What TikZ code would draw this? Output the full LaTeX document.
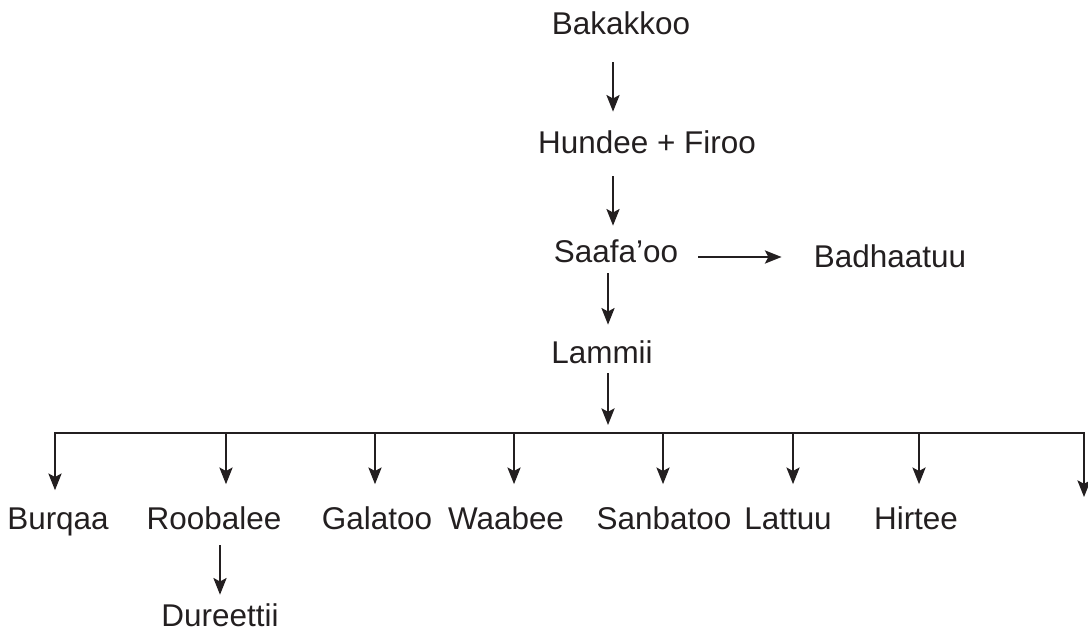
\documentclass[tikz,border=0pt]{standalone}
\usepackage{fontspec}
\setmainfont{Liberation Sans}
\usepackage{tikz}
\usetikzlibrary{arrows.meta}
\definecolor{ink}{HTML}{231F20}
\tikzstyle{word} = [font=\fontsize{17.9pt}{21pt}\selectfont, text=ink, inner sep=0pt, text height=0.45cm, text depth=0.12cm, anchor=base]
\tikzstyle{arrow} = [line width=1.1pt, draw=ink, -{Stealth[length=9.5pt, width=7.5pt, inset=2pt]}]
\tikzstyle{bus} = [line width=1.1pt, draw=ink, line cap=rect]

\begin{document}
\begin{tikzpicture}[x=0.02cm, y=-0.02cm]
\useasboundingbox (0,0) rectangle (1088,630);
\node (bak) [word] at (621,34) {Bakakkoo};
\node (hun) [word] at (647,153) {Hundee + Firoo};
\node (saa) [word] at (616,262) {Saafa’oo};
\node (bad) [word] at (890,267) {Badhaatuu};
\node (lam) [word] at (602,363) {Lammii};
\node (bur) [word] at (58,529) {Burqaa};
\node (roo) [word] at (214,529) {Roobalee};
\node (gal) [word] at (377,529) {Galatoo};
\node (waa) [word] at (506,529) {Waabee};
\node (san) [word] at (664,529) {Sanbatoo};
\node (lat) [word] at (788,529) {Lattuu};
\node (hir) [word] at (916,529) {Hirtee};
\node (dur) [word] at (220,626) {Dureettii};
\coordinate (top) at (613,0);
\coordinate (mid) at (608,433);
\coordinate (b1) at (55,433);
\coordinate (b2) at (226,433);
\coordinate (b3) at (375,433);
\coordinate (b4) at (514,433);
\coordinate (b5) at (663,433);
\coordinate (b6) at (793,433);
\coordinate (b7) at (919,433);
\coordinate (b8) at (1084,433);
\coordinate (end) at (1084,497);
\draw [arrow, shorten <=0.44cm, shorten >=0.37cm] (bak.south -| top) -- (hun.north -| top);
\draw [arrow, shorten <=0.34cm, shorten >=0.27cm] (hun.south -| top) -- (saa.north -| top);
\draw [arrow, shorten <=0.4cm, shorten >=0.64cm] ([yshift=-0.065cm]saa.east) -- ([yshift=-0.065cm]saa.east -| bad.west);
\draw [arrow, shorten <=0.1cm, shorten >=0.31cm] (saa.south -| mid) -- (lam.north -| mid);
\draw [arrow, shorten <=0.08cm, shorten >=0.16cm] (lam.south -| mid) -- (mid);
\draw [bus] (b1) -- (b8);
\draw [arrow, shorten >=0.32cm] (b1) -- (bur.north -| b1);
\foreach \b/\n in {b2/roo, b3/gal, b4/waa, b5/san, b6/lat, b7/hir}
  \draw [arrow, shorten >=0.44cm] (\b) -- (\n.north -| \b);
\draw [arrow] (b8) -- (end);
\draw [arrow, shorten <=0.2cm, shorten >=0.17cm] (roo.south -| dur.north) -- (dur.north);
\end{tikzpicture}
\end{document}
